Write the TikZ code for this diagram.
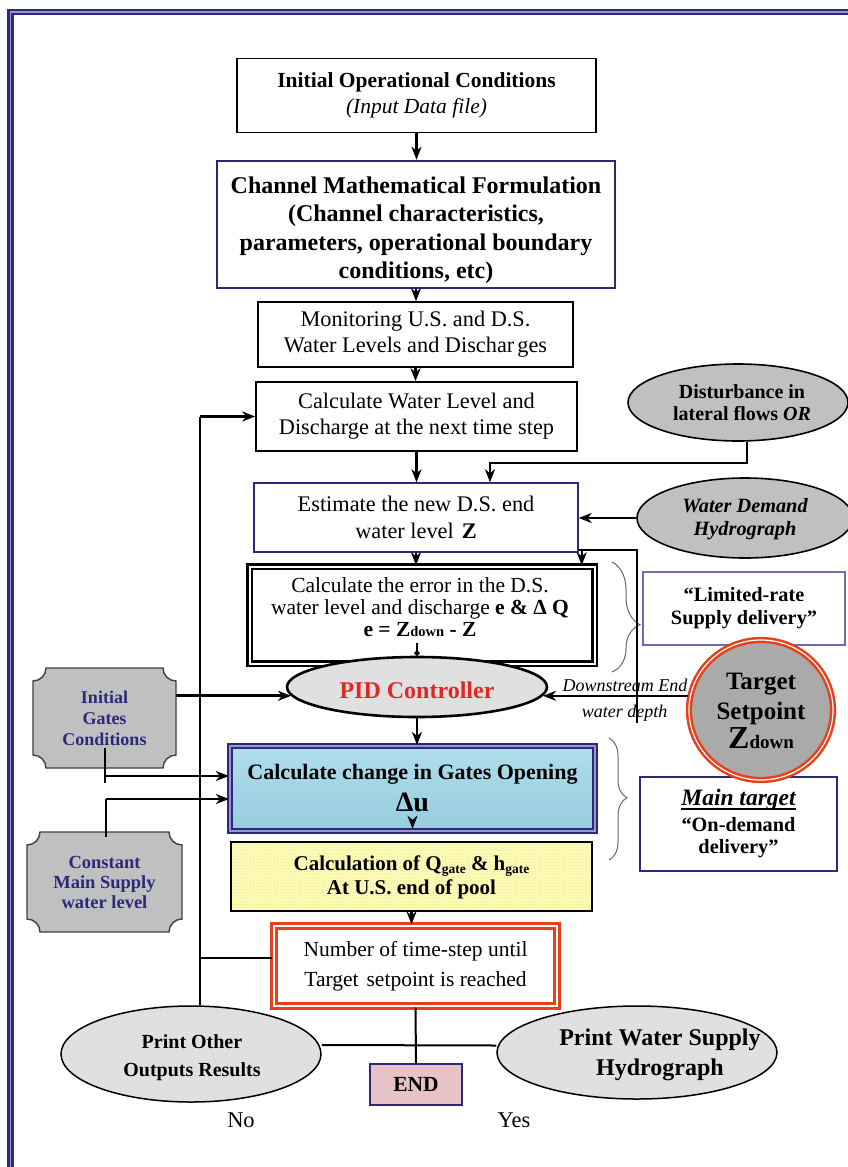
\documentclass[tikz,border=0pt]{standalone}
\usepackage{fontspec}
\setmainfont{Liberation Serif}
\usetikzlibrary{shapes.geometric,arrows.meta,decorations.pathreplacing,patterns,calc}
\definecolor{navy}{HTML}{2B2A7A}
\definecolor{framelt}{HTML}{9A94D0}
\definecolor{redb}{HTML}{E8401C}
\definecolor{pidred}{HTML}{E02828}
\definecolor{grayA}{HTML}{C0C0C0}
\definecolor{grayB}{HTML}{AAAAAA}
\definecolor{grayL}{HTML}{E0E0E0}
\definecolor{cyanA}{HTML}{B0DEEC}
\definecolor{cyanB}{HTML}{96CCDF}
\definecolor{yel}{HTML}{FFFDBA}
\definecolor{yeldot}{HTML}{EDE38C}
\definecolor{pinkb}{HTML}{E7C3C6}
\definecolor{bluebd}{HTML}{6C6CB4}
\newcommand\fsz[2]{\fontsize{#1}{#2}\selectfont\lineskiplimit=-30pt\relax}
\newcommand\plaq[5]{%
  \path[plaquefill] ({#1+#5},#2) -- ({#3-#5},#2)
    .. controls ({#3-#5},{#2+0.552*#5}) and ({#3-0.552*#5},{#2+#5}) .. (#3,{#2+#5})
    -- (#3,{#4-#5})
    .. controls ({#3-0.552*#5},{#4-#5}) and ({#3-#5},{#4-0.552*#5}) .. ({#3-#5},#4)
    -- ({#1+#5},#4)
    .. controls ({#1+#5},{#4-0.552*#5}) and ({#1+0.552*#5},{#4-#5}) .. (#1,{#4-#5})
    -- (#1,{#2+#5})
    .. controls ({#1+0.552*#5},{#2+#5}) and ({#1+#5},{#2+0.552*#5}) .. cycle;}
\begin{document}
\begin{tikzpicture}[x=1pt,y=-1pt,
  box/.style={draw, line width=1.6pt, fill=white, align=center, inner sep=0pt},
  ell/.style={ellipse, draw, line width=1.6pt, inner sep=0pt},
  txt/.style={align=center, inner sep=0pt},
  arr/.style={line width=2.8pt, -{Stealth[length=13pt,width=10pt,inset=4pt]}},
  ln/.style={line width=2pt},
  lnthin/.style={line width=1.4pt},
  plaquefill/.style={fill=grayA, draw=black!75, line width=1.4pt},
  brc/.style={draw=black!60, line width=1pt, decorate},
]
\useasboundingbox (0,0) rectangle (848,1167);
% frame
\draw[navy, line width=6.5pt] (10.7,1172) -- (10.7,12) -- (853,12);
\draw[framelt, line width=1.5pt] (10.7,1172) -- (10.7,12) -- (853,12);

% main column
\node[box, minimum width=359pt, minimum height=74pt, font=\fsz{21.5}{26}] (ioc) at (416.5,95.5)
  {{\bfseries Initial Operational Conditions}\\{\itshape (Input Data file)}};
\node[box, draw=navy, line width=2.5pt, minimum width=398pt, minimum height=127pt] (cmf) at (416,224.5) {};
\node[txt, font=\fsz{24}{28.5}\bfseries] (cmft) at (416,230)
  {Channel Mathematical Formulation\\(Channel characteristics,\\parameters, operational boundary\\conditions, etc)};
\node[box, minimum width=315pt, minimum height=65pt, font=\fsz{22.3}{26}] (mon) at (415.5,334.5)
  {Monitoring U.S. and D.S.\\Water Levels and Dischar\hspace{3pt}ges};
\node[box, minimum width=321pt, minimum height=69pt, font=\fsz{22.3}{26}] (calc) at (416.5,416.5)
  {Calculate Water Level and\\Discharge at the next time step};
\node[box, draw=navy, line width=1.4pt, minimum width=324pt, minimum height=69pt, font=\fsz{22.3}{27}] (est) at (416,517.5)
  {Estimate the new D.S. end\\water level\hspace{8pt}\textbf{Z}};
\node[box, line width=2.5pt, double=white, double distance=2pt, minimum width=345pt, minimum height=97pt] (err) at (422,615) {};
\node[txt, font=\fsz{21.5}{22}] (errt) at (420,607)
  {Calculate the error in the D.S.\\water level and discharge \textbf{e \& Δ Q}\\\textbf{e = Z{\fsz{14.5}{22}down} - Z}};
\node[ell, line width=2.6pt, fill=grayL, minimum width=260pt, minimum height=60pt] (pid) at (417,687) {};
\node[txt, font=\fsz{24}{26}\bfseries, text=pidred] (pidt) at (417,690) {PID Controller};
\node[box, draw=navy, double=framelt, double distance=2pt, line width=2.2pt, top color=cyanA, bottom color=cyanB,
  minimum width=365pt, minimum height=85pt, font=\fsz{22}{32}\bfseries] (blue) at (412.5,788.5)
  {Calculate change in Gates Opening\\{\fsz{28}{32}Δu}};
\node[draw, line width=2.5pt, preaction={fill=yel}, pattern=crosshatch dots, pattern color=yeldot,
  minimum width=361pt, minimum height=69pt, inner sep=0pt] (yel) at (411.5,876.5) {};
\node[txt, font=\fsz{21}{24}\bfseries] (yelt) at (411.5,877)
  {Calculation of Q\raisebox{-3.5pt}{\fsz{13.5}{13.5}gate} \& h\raisebox{-3.5pt}{\fsz{13.5}{13.5}gate}\\At U.S. end of pool};
\node[box, draw=redb, line width=3.2pt, double=white, double distance=2pt, minimum width=283pt, minimum height=80pt,
  font=\fsz{21.5}{30}] (rb) at (415.5,966)
  {Number of time-step until\\Target\hspace{8pt}setpoint is reached};
\node[box, draw=navy, line width=2pt, fill=pinkb, minimum width=92pt, minimum height=41pt, font=\fsz{21.5}{22}\bfseries] (endb) at (416,1084.5) {END};

% bottom ellipses
\node[ell, line width=1.5pt, fill=grayL, minimum width=260pt, minimum height=96pt] (po) at (191,1054) {};
\node[txt, font=\fsz{20}{28}\bfseries] (pot) at (192,1058) {Print Other\\Outputs Results};
\node[ell, line width=1.5pt, fill=grayL, minimum width=280pt, minimum height=93pt] (pw) at (637,1052.5) {};
\node[txt, font=\fsz{24}{30}\bfseries] (pwt) at (660,1055) {Print Water Supply\\Hydrograph};
\node[txt, font=\fsz{22.5}{24}] (no) at (241,1120) {No};
\node[txt, font=\fsz{22.5}{24}] (yes) at (514,1120) {Yes};

% right side
\node[ell, fill=grayA, minimum width=220pt, minimum height=77pt] (dist) at (738,402.5) {};
\node[txt, font=\fsz{20}{22}\bfseries] (distt) at (742,403) {Disturbance in\\lateral flows \textit{OR}};
\node[ell, fill=grayA, minimum width=216pt, minimum height=80pt] (wd) at (745,518) {};
\node[txt, font=\fsz{20.3}{23}\bfseries\itshape] (wdt) at (745,519.5) {Water Demand\\Hydrograph};
\node[box, draw=bluebd, line width=1.5pt, minimum width=202pt, minimum height=73pt, font=\fsz{20.3}{23}\bfseries] (lim) at (744,608.5)
  {“Limited-rate\\Supply delivery”};
\node[box, draw=navy, line width=2pt, minimum width=197pt, minimum height=94pt] (mt) at (738.5,824) {};
\node[txt, font=\fsz{23.5}{27}\bfseries\itshape] (mtt) at (738.5,800) {Main target};
\draw[line width=1.6pt] ([yshift=-3.5pt]mtt.base west) -- ([yshift=-3.5pt]mtt.base east);
\node[txt, font=\fsz{20.3}{22}\bfseries] (mtd) at (738.5,838) {“On-demand\\delivery”};
\node[ellipse, draw=redb, double=white, line width=2.5pt, double distance=1.2pt, fill=grayB, inner sep=0pt,
  minimum width=144pt, minimum height=140pt] (tsp) at (761,710) {};
\node[txt, font=\fsz{25}{29.5}\bfseries] (tspt) at (761,711) {Target\\Setpoint\\{\fsz{32}{29.5}Z}{\fsz{19}{29.5}down}};
\node[txt, font=\fsz{18}{20}\itshape] (dse) at (625,685) {Downstream End};
\node[txt, font=\fsz{18}{20}\itshape] (wdp) at (624.5,713) {water depth};

% left plaques
\plaq{33}{668}{176}{768}{13}
\node[txt, text=navy, font=\fsz{18}{21}\bfseries, minimum width=143pt, minimum height=100pt] (igc) at (104.5,718) {Initial\\Gates\\Conditions};
\plaq{27}{832}{182}{932}{13}
\node[txt, text=navy, font=\fsz{18.5}{20}\bfseries, minimum width=155pt, minimum height=100pt] (cms) at (104.5,882) {Constant\\Main Supply\\water level};

% braces
\draw[brc, decoration={brace, amplitude=28pt, aspect=0.57}] (612,562) -- (612,672);
\draw[brc, decoration={brace, amplitude=18pt, aspect=0.49}] (609,738) -- (609,860);

% connectors
\draw[arr] (ioc.south) -- (ioc.south |- cmf.north);
\draw[arr] (cmf.south) -- (cmf.south |- mon.north);
\draw[arr] (mon.south) -- (mon.south |- calc.north);
\draw[arr] (calc.south) -- (calc.south |- est.north);
\draw[arr, line width=2.4pt] ([xshift=9pt]dist.south) -- ++(0,21) -| ([xshift=74pt]est.north);
\draw[arr, line width=2.4pt] (wd.west) -- (wd.west -| est.east);
\draw[arr] (est.south) -- (est.south |- err.north);
\coordinate (fb) at (637,723);
\draw[line width=2.2pt] (fb) |- ([yshift=3pt]est.south east);
\draw[arr, line width=2.2pt] ([shift={(3pt,3pt)}]est.south east) -- ([xshift=3pt]est.south east |- err.north);
\draw[line width=2.6pt, -{Circle[length=5pt]}] ([yshift=22pt]err.south -| pid.north) -- (pid.north);
\draw[arr] (igc.east |- pid.184) -- (pid.184);
\draw[arr, line width=2.4pt] (tsp.west |- pid.356) -- (pid.356);
\draw[arr] (pid.south) -- (pid.south |- blue.north);
\draw[arr] ([yshift=12pt]blue.south) -- ([yshift=12pt]blue.south |- yel.north);
\draw[arr] (yel.south) -- (yel.south |- rb.north);
\coordinate (igb) at (105,748);
\draw[line width=2.2pt] (igb) -- ++(0,35);
\draw[arr] ([yshift=12.5pt]blue.west -| igb) -- ([yshift=12.5pt]blue.west);
\coordinate (csb) at (106,837);
\draw[line width=2.2pt] (csb) -- ++(0,-38);
\draw[arr] ([yshift=-10.5pt]blue.west -| csb) -- ([yshift=-10.5pt]blue.west);
\coordinate (lp) at ([xshift=9pt]po.north);
\draw[lnthin] (lp) -- (lp |- calc.west);
\draw[arr] (lp |- calc.west) -- (calc.west);
\draw[ln] ([yshift=8pt]rb.west) -- ([yshift=8pt]rb.west -| lp);
\draw[ln] (rb.south) -- (endb.north);
\draw[ln] ([yshift=9pt]po.east) -- ([yshift=7pt]pw.west);
\end{tikzpicture}
\end{document}
